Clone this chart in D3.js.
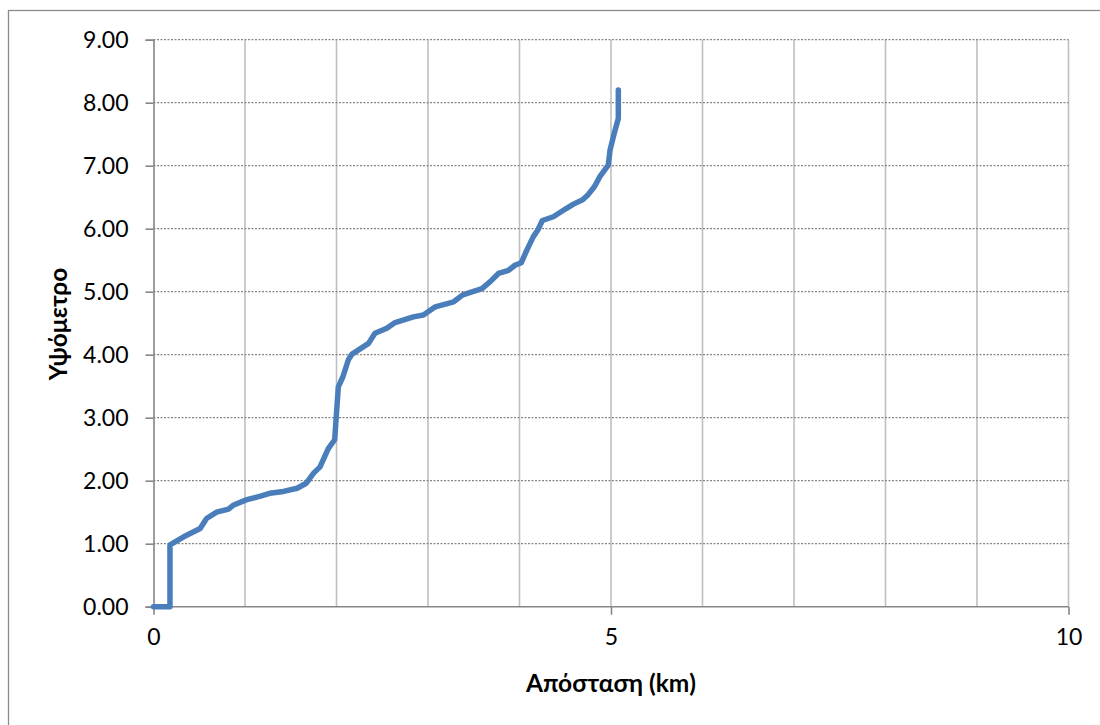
<!DOCTYPE html>
<html><head><meta charset="utf-8">
<script src="https://cdn.jsdelivr.net/npm/d3@7"></script>
<style>body{margin:0;background:#fff}svg{display:block}</style>
</head><body>
<svg id="c" width="1100" height="725"></svg>
<script>
const distanceKm = [0, 0.18, 0.18, 0.33, 0.51, 0.58, 0.69, 0.82, 0.87, 1.02, 1.16, 1.27, 1.42, 1.57, 1.67, 1.75, 1.82, 1.91, 1.98, 2.02, 2.07, 2.13, 2.17, 2.35, 2.42, 2.55, 2.64, 2.84, 2.95, 3.08, 3.28, 3.38, 3.59, 3.68, 3.77, 3.88, 3.95, 4.02, 4.08, 4.15, 4.20, 4.25, 4.37, 4.51, 4.59, 4.69, 4.75, 4.82, 4.88, 4.97, 4.99, 5.04, 5.08, 5.08];
const elevation = [0, 0, 0.98, 1.11, 1.24, 1.40, 1.50, 1.55, 1.61, 1.70, 1.75, 1.80, 1.83, 1.88, 1.96, 2.12, 2.22, 2.51, 2.65, 3.49, 3.65, 3.92, 4.01, 4.18, 4.34, 4.42, 4.51, 4.60, 4.63, 4.76, 4.84, 4.95, 5.05, 5.16, 5.29, 5.34, 5.42, 5.46, 5.66, 5.87, 5.98, 6.13, 6.19, 6.32, 6.39, 6.46, 6.54, 6.67, 6.83, 7.01, 7.25, 7.54, 7.75, 8.20];
const xMajorTicks = [0, 5, 10];
const xGridTicks = [1, 2, 3, 4, 5, 6, 7, 8, 9, 10];
const yTicks = [0, 1, 2, 3, 4, 5, 6, 7, 8, 9];
const xTitle = "Απόσταση (km)";
const yTitle = "Υψόμετρο";

const svg = d3.select("#c");
const font = "Lato, 'Open Sans', sans-serif";
const L = 153.5, R = 1068.5, T = 39.7, B = 606.7;
const x = d3.scaleLinear().domain([0, 10]).range([L, R]);
const y = d3.scaleLinear().domain([0, 9]).range([B, T]);

// outer border
svg.append("rect").attr("x", 8.5).attr("y", 10.5).attr("width", 1200).attr("height", 800)
  .attr("fill", "none").attr("stroke", "#8c8c8c").attr("stroke-width", 1.3);

// vertical gridlines
svg.append("g").selectAll("line").data(xGridTicks).join("line")
  .attr("x1", d => x(d)).attr("x2", d => x(d)).attr("y1", T).attr("y2", B)
  .attr("stroke", "#bfbfbf").attr("stroke-width", 1.6);

// horizontal dotted gridlines
svg.append("g").selectAll("line").data(yTicks.filter(d => d > 0)).join("line")
  .attr("x1", L).attr("x2", R).attr("y1", d => y(d)).attr("y2", d => y(d))
  .attr("stroke", "#868686").attr("stroke-width", 1.3).attr("stroke-dasharray", "2,1.5");

// y axis
const yAxis = svg.append("g").attr("transform", `translate(${L},0)`)
  .call(d3.axisLeft(y).tickValues(yTicks).tickSize(8).tickPadding(17).tickFormat(d3.format(".2f")));
yAxis.select(".domain").attr("stroke", "#868686").attr("stroke-width", 1.6);
yAxis.selectAll(".tick line").attr("stroke", "#868686").attr("stroke-width", 1.6);
yAxis.selectAll("text").attr("font-family", font).attr("font-size", 23).attr("fill", "#000");

// x axis
const xAxis = svg.append("g").attr("transform", `translate(0,${B})`)
  .call(d3.axisBottom(x).tickValues(xMajorTicks).tickSize(8).tickPadding(14).tickFormat(d3.format("d")));
xAxis.select(".domain").attr("stroke", "#868686").attr("stroke-width", 1.6).attr("d", `M${L},0H${R}`);
xAxis.selectAll(".tick line").attr("stroke", "#868686").attr("stroke-width", 1.6);
xAxis.selectAll("text").attr("font-family", font).attr("font-size", 23).attr("fill", "#000");

// line
const line = d3.line().x((d, i) => x(distanceKm[i])).y(d => y(d));
svg.append("path").datum(elevation).attr("d", line)
  .attr("fill", "none").attr("stroke", "#4a7ebb").attr("stroke-width", 5.5)
  .attr("stroke-linejoin", "round").attr("stroke-linecap", "round");

// titles
svg.append("text").attr("x", 611).attr("y", 692).attr("text-anchor", "middle")
  .attr("font-family", font).attr("font-weight", "bold").attr("font-size", 24.5).text(xTitle);
svg.append("text").attr("transform", `translate(67,324) rotate(-90)`).attr("text-anchor", "middle")
  .attr("font-family", font).attr("font-weight", "bold").attr("font-size", 24.5).text(yTitle);
</script>
</body></html>
